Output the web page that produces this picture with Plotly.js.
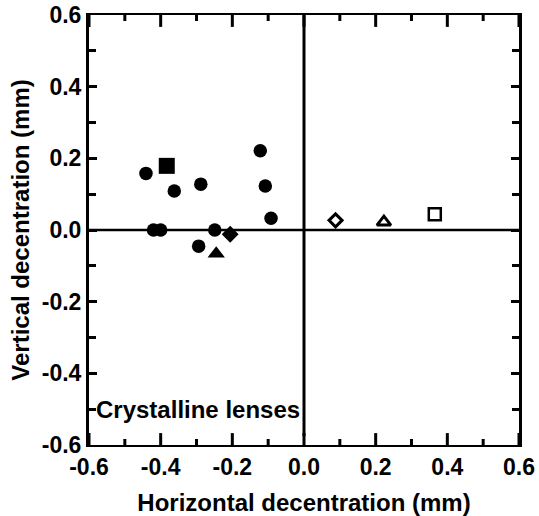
<!DOCTYPE html>
<html>
<head>
<meta charset="utf-8">
<script src="https://cdn.plot.ly/plotly-3.0.1.min.js"></script>
<style>html,body{margin:0;padding:0;background:#fff;}#chart{width:539px;height:516px;}</style>
</head>
<body>
<div id="chart"></div>
<script>
// Filled circles
const circleX = [-0.441, -0.362, -0.288, -0.122, -0.108, -0.092, -0.420, -0.400, -0.294, -0.249];
const circleY = [0.158, 0.109, 0.128, 0.221, 0.123, 0.033, 0.000, 0.000, -0.045, 0.000];
// Filled square, diamond, triangle
const fSquareX = [-0.383]; const fSquareY = [0.179];
const fDiamondX = [-0.206]; const fDiamondY = [-0.012];
const fTriangleX = [-0.245]; const fTriangleY = [-0.066];
// Open markers
const oDiamondX = [0.088]; const oDiamondY = [0.027];
const oTriangleX = [0.223]; const oTriangleY = [0.022];
const oSquareX = [0.365]; const oSquareY = [0.044];

const axisRange = [-0.6, 0.6];
const tickVals = [-0.6, -0.4, -0.2, 0.0, 0.2, 0.4, 0.6];
const minorTickVals = [-0.5, -0.3, -0.1, 0.1, 0.3, 0.5];
const tickText = ['-0.6', '-0.4', '-0.2', '0.0', '0.2', '0.4', '0.6'];
const xTitle = 'Horizontal decentration (mm)';
const yTitle = 'Vertical decentration (mm)';
const noteText = 'Crystalline lenses';

const F = 'Liberation Sans, Arial, sans-serif';
function tr(x, y, symbol, size, open, lw) {
  return {x: x, y: y, type: 'scatter', mode: 'markers', showlegend: false, hoverinfo: 'skip',
    marker: {symbol: symbol, size: size, color: open ? 'rgba(0,0,0,0)' : '#000',
      line: {color: '#000', width: open ? lw : 0}}};
}
// x-axis tick marks on the bottom and top edges (half of each mark is clipped by the plot area)
function edgeTicks(vals, size) {
  const xs = [], ys = [];
  vals.forEach(v => { axisRange.forEach(r => { xs.push(v); ys.push(r); }); });
  return {x: xs, y: ys, type: 'scatter', mode: 'markers', cliponaxis: true, showlegend: false, hoverinfo: 'skip',
    marker: {symbol: 'line-ns-open', size: size, color: '#000', line: {color: '#000', width: 3}}};
}
const data = [
  edgeTicks(tickVals, 17),
  edgeTicks(minorTickVals, 8.6),
  tr(circleX, circleY, 'circle', 13.5, false),
  tr(fSquareX, fSquareY, 'square', 16, false),
  tr(fDiamondX, fDiamondY, 'diamond', 13, false),
  tr(fTriangleX, fTriangleY, 'triangle-up', 15, false),
  tr(oDiamondX, oDiamondY, 'diamond', 10, true, 3),
  tr(oTriangleX, oTriangleY, 'triangle-up', 12, true, 3),
  tr(oSquareX, oSquareY, 'square', 12, true, 2.5)
];
const layout = {
  width: 539, height: 516,
  margin: {l: 89, r: 20, t: 15, b: 71},
  font: {family: F, color: '#000'},
  showlegend: false,
  xaxis: {range: axisRange, tickvals: tickVals, ticktext: tickText,
    ticks: '',
    showline: true, linewidth: 2, linecolor: '#000', mirror: true, showgrid: false,
    zeroline: false,
    tickfont: {family: F, size: 23, color: '#000', weight: 'bold'},
    title: {text: xTitle, font: {family: F, size: 24, color: '#000', weight: 'bold'}}},
  yaxis: {range: axisRange, tickvals: tickVals, ticktext: tickText,
    ticks: 'inside', ticklen: 8, tickwidth: 3, tickcolor: '#000',
    minor: {ticks: 'inside', dtick: 0.1, tick0: 0, ticklen: 7, tickwidth: 3, tickcolor: '#000', showgrid: false},
    showline: true, linewidth: 3, linecolor: '#000', mirror: 'ticks', showgrid: false,
    zeroline: false,
    tickfont: {family: F, size: 23, color: '#000', weight: 'bold'},
    title: {text: yTitle, font: {family: F, size: 24, color: '#000', weight: 'bold'}}},
  shapes: [
    {type: 'line', xref: 'x', yref: 'y', x0: 0, x1: 0, y0: -0.575, y1: 0.6, layer: 'below', line: {color: '#000', width: 3}},
    {type: 'line', xref: 'paper', yref: 'y', x0: 0, x1: 1, y0: 0, y1: 0, layer: 'below', line: {color: '#000', width: 2.5}}
  ],
  annotations: [{text: noteText, xref: 'paper', yref: 'y', x: 0, y: -0.5, xanchor: 'left', yanchor: 'middle',
    xshift: 5, showarrow: false, font: {family: F, size: 24, color: '#000', weight: 'bold'}}]
};
Plotly.newPlot('chart', data, layout, {staticPlot: true, displayModeBar: false});
</script>
</body>
</html>
